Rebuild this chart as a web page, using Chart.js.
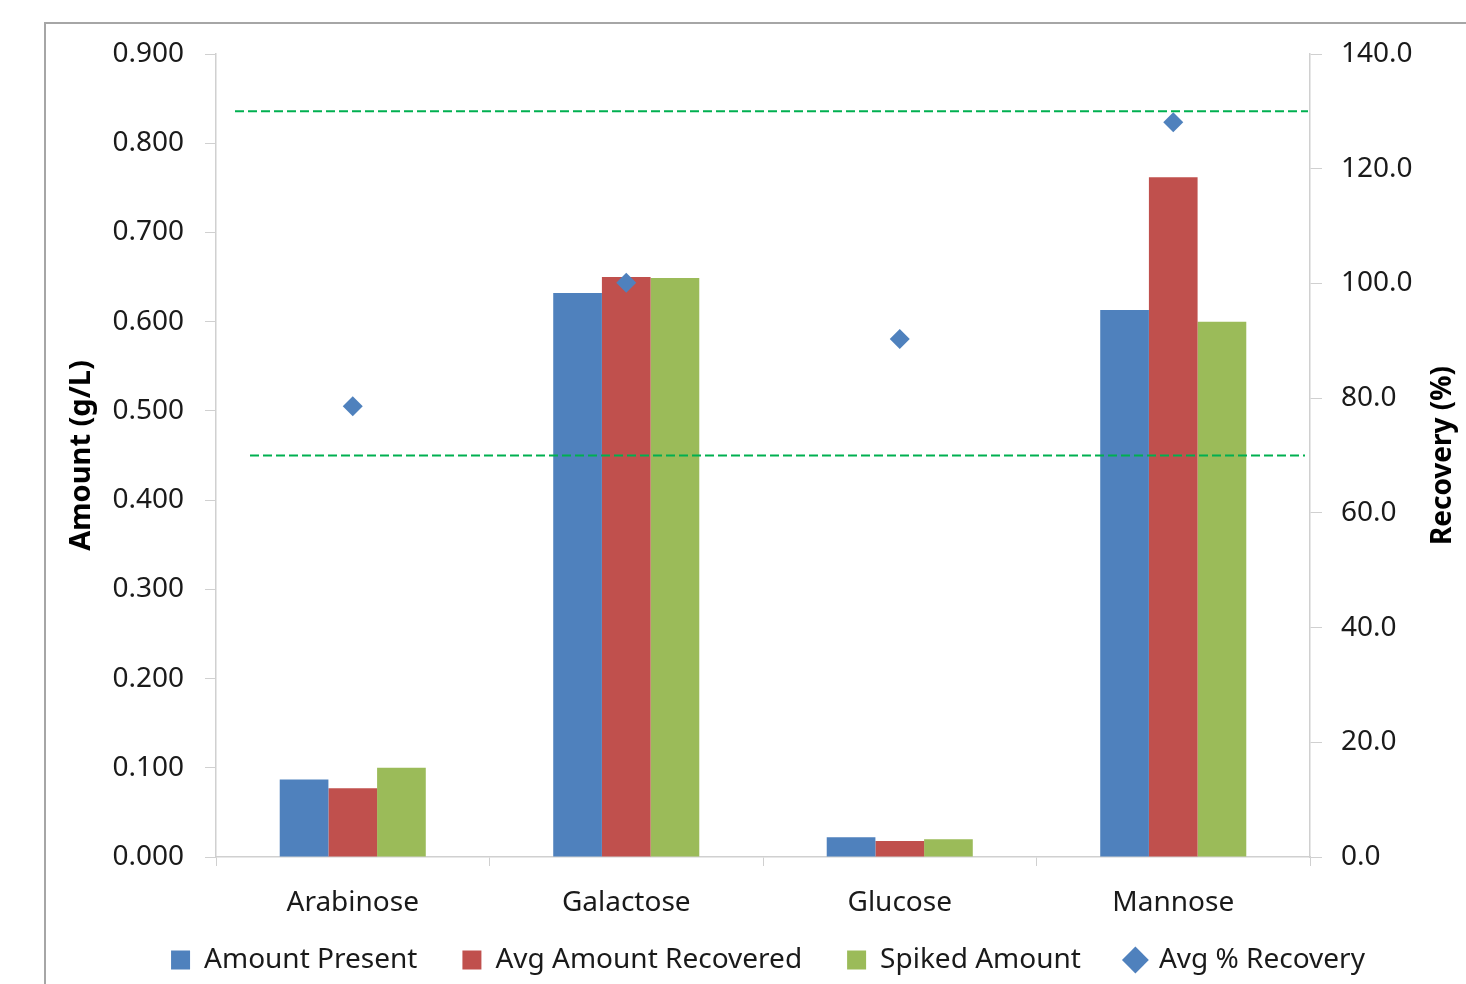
<!DOCTYPE html>
<html>
<head>
<meta charset="utf-8">
<title>Sugar recovery</title>
<script src="https://cdn.jsdelivr.net/npm/chart.js@4.4.0/dist/chart.umd.min.js"></script>
<style>
  html, body { margin: 0; padding: 0; background: #fff; overflow: hidden; }
  #frame {
    position: absolute; left: 44px; top: 22px; width: 1500px; height: 1000px;
    border-left: 2px solid #a6a6a6; border-top: 2px solid #a6a6a6;
  }
  #wrap { position: absolute; left: 0; top: 0; width: 1536px; height: 984px; }
</style>
</head>
<body>
<div id="frame"></div>
<div id="wrap"><canvas id="mainChart"></canvas></div>
<script>
const categories = ["Arabinose", "Galactose", "Glucose", "Mannose"];
const amountPresent = [0.087, 0.632, 0.022, 0.613];
const avgRecovered = [0.077, 0.650, 0.018, 0.762];
const spikedAmount = [0.100, 0.649, 0.020, 0.600];
const avgRecovery = [78.6, 100.1, 90.3, 128.1];
const recoveryLimits = [130, 70];

const FONT = "'Noto Sans', 'Open Sans', sans-serif";
const axisColor = "#d0d0d0";
const textColor = "#1a1a1a";

// dashed acceptance lines on the recovery axis
const limitLines = {
  id: "limitLines",
  afterDatasetsDraw(chart) {
    const { ctx, chartArea } = chart;
    const y1 = chart.scales.y1;
    ctx.save();
    ctx.strokeStyle = "#00b050";
    ctx.lineWidth = 2;
    ctx.setLineDash([9, 4]);
    recoveryLimits.forEach((v, i) => {
      const y = y1.getPixelForValue(v);
      ctx.beginPath();
      ctx.moveTo(chartArea.left + (i === 0 ? 19 : 34), y);
      ctx.lineTo(chartArea.right - (i === 0 ? 2 : 5), y);
      ctx.stroke();
    });
    ctx.restore();
  },
};

// right axis title reads bottom-to-top, chart.js would rotate it the other way
const rightTitle = {
  id: "rightTitle",
  afterDraw(chart) {
    const { ctx, chartArea } = chart;
    ctx.save();
    ctx.translate(chartArea.right + 133, (chartArea.top + chartArea.bottom) / 2);
    ctx.rotate(-Math.PI / 2);
    ctx.font = "bold 28px " + FONT;
    ctx.fillStyle = "#000";
    ctx.textAlign = "center";
    ctx.textBaseline = "middle";
    ctx.fillText("Recovery (%)", 0, 0);
    ctx.restore();
  },
};

// stretch the legend box upwards so its big item padding doesn't push it off the page
const legendLift = {
  id: "legendLift",
  afterLayout(chart) {
    chart.legend.top -= 26;
    chart.legend.height += 26;
  },
};

const barDefaults = { barPercentage: 1, categoryPercentage: 0.534, borderWidth: 0, pointStyle: "rect" };

new Chart(document.getElementById("mainChart"), {
  type: "bar",
  data: {
    labels: categories,
    datasets: [
      { label: "Amount Present", data: amountPresent, backgroundColor: "#4f81bd", ...barDefaults },
      { label: "Avg Amount Recovered", data: avgRecovered, backgroundColor: "#c0504d", ...barDefaults },
      { label: "Spiked Amount", data: spikedAmount, backgroundColor: "#9bbb59", ...barDefaults },
      {
        label: "Avg % Recovery",
        type: "line",
        data: avgRecovery,
        yAxisID: "y1",
        showLine: false,
        pointStyle: "rectRot",
        pointRadius: 10,
        pointHoverRadius: 10,
        backgroundColor: "#4f81bd",
        borderColor: "#4f81bd",
        borderWidth: 0,
        order: -1,
      },
    ],
  },
  options: {
    responsive: true,
    maintainAspectRatio: false,
    animation: false,
    layout: { padding: { top: 54, bottom: 0, left: 0, right: 0 } },
    plugins: {
      tooltip: { enabled: false },
      legend: {
        position: "bottom",
        maxHeight: 57,
        labels: {
          usePointStyle: true,
          boxWidth: 19,
          boxHeight: 19,
          padding: 45,
          color: textColor,
          font: { size: 28, family: FONT },
          sort: (a, b) => a.datasetIndex - b.datasetIndex,
        },
      },
    },
    scales: {
      x: {
        afterFit: (s) => { s.height = 70; },
        grid: { drawOnChartArea: false, tickLength: 9, color: axisColor, offset: true },
        border: { color: axisColor, width: 1.5 },
        ticks: { color: textColor, padding: 20, font: { size: 28, family: FONT } },
      },
      y: {
        position: "left",
        min: 0,
        max: 0.9,
        afterFit: (s) => { s.width = 216; },
        grid: { drawOnChartArea: false, tickLength: 11, color: axisColor },
        border: { color: axisColor, width: 1.5 },
        ticks: {
          stepSize: 0.1,
          padding: 21,
          color: textColor,
          font: { size: 28, family: FONT },
          callback: (v) => v.toFixed(3),
        },
        title: {
          display: true,
          text: "Amount (g/L)",
          color: "#000",
          padding: { top: 64, bottom: 0 },
          font: { size: 29, weight: "bold", family: FONT },
        },
      },
      y1: {
        position: "right",
        min: 0,
        max: 140,
        afterFit: (s) => { s.width = 226; },
        grid: { drawOnChartArea: false, tickLength: 12, color: axisColor },
        border: { color: axisColor, width: 1.5 },
        ticks: {
          stepSize: 20,
          padding: 19,
          color: textColor,
          font: { size: 28, family: FONT },
          callback: (v) => v.toFixed(1),
        },
      },
    },
  },
  plugins: [limitLines, rightTitle, legendLift],
});
</script>
</body>
</html>
